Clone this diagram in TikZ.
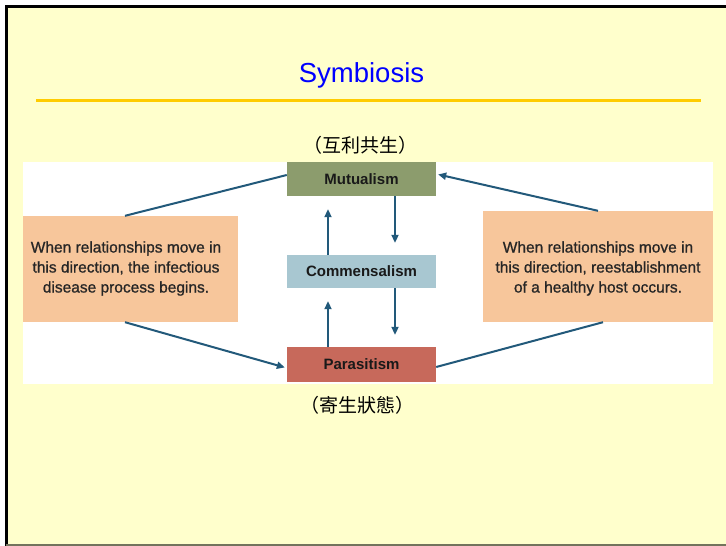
\documentclass[tikz,border=0pt]{standalone}
\usepackage{fontspec}
\setmainfont{Liberation Sans}
\newfontfamily\notefont[FakeBold=0.9]{Liberation Sans}
\newfontfamily\cjk{Noto Sans CJK TC}
\usetikzlibrary{arrows.meta}
\definecolor{slidebg}{HTML}{FFFFCC}
\definecolor{rulegold}{HTML}{FFCC00}
\definecolor{titleblue}{HTML}{0000FF}
\definecolor{mutcol}{HTML}{8C9C6D}
\definecolor{comcol}{HTML}{A8C7D1}
\definecolor{parcol}{HTML}{C7695B}
\definecolor{notecol}{HTML}{F7C69B}
\definecolor{linkcol}{HTML}{22597A}
\tikzset{
  statebox/.style={fill=#1, draw=none, minimum width=149pt, inner sep=0pt,
    font=\fontsize{15}{18}\selectfont\bfseries, text=black!90},
  notebox/.style={fill=notecol, draw=none, inner sep=0pt},
  notetext/.style={inner sep=0pt, align=center,
    font=\notefont\fontsize{15.5}{20}\selectfont, text=black!85},
  link/.style={draw=linkcol, line width=2pt},
  linkarrow/.style={link, -{Triangle[length=8pt,width=7pt]}},
  cjklabel/.style={font=\cjk\fontsize{19}{22}\selectfont, inner sep=0pt}
}
\begin{document}
\begin{tikzpicture}[x=1pt,y=-1pt]
\useasboundingbox (0,0) rectangle (726,546);
\fill[white] (0,0) rectangle (726,546);
\fill[slidebg] (6,6) rectangle (726,545);
\draw[black, line width=2.5pt] (6.5,546) -- (6.5,6.5) -- (726,6.5);
\draw[black!55!slidebg, line width=1.5pt] (6,545) -- (726,545);

\node[text=titleblue, font=\fontsize{27.5}{30}\selectfont] (title) at (361.5,75) {Symbiosis};
\draw[rulegold, line width=3pt] (36,100) -- (701,100);

\fill[white] (23,162) rectangle (713,384);

\node[cjklabel] (cmut) at (360,145) {（互利共生）};
\node[cjklabel] (cpar) at (357,405) {（寄生狀態）};

\node[statebox=mutcol, minimum height=34pt] (mut) at (361.5,179) {Mutualism};
\node[statebox=comcol, minimum height=33pt] (com) at (361.5,271.5) {Commensalism};
\node[statebox=parcol, minimum height=35pt] (par) at (361.5,364.5) {Parasitism};

\node[notebox, minimum width=215pt, minimum height=106pt] (left) at (130.5,269) {};
\node[notetext] (lefttext) at (126,268.5)
  {When relationships move in\\this direction, the infectious\\disease process begins.};
\node[notebox, minimum width=230pt, minimum height=111pt] (right) at (598,266.5) {};
\node[notetext] (righttext) at (598,268.5)
  {When relationships move in\\this direction, reestablishment\\of a healthy host occurs.};

% vertical arrows
\draw[linkarrow, shorten >=13pt] ([xshift=-33.5pt]com.north) -- ([xshift=-33.5pt]mut.south);
\draw[linkarrow, shorten >=12pt] ([xshift=33.5pt]mut.south) -- ([xshift=33.5pt]com.north);
\draw[linkarrow, shorten >=13pt] ([xshift=-33.5pt]par.north) -- ([xshift=-33.5pt]com.south);
\draw[linkarrow, shorten >=12pt] ([xshift=33.5pt]com.south) -- ([xshift=33.5pt]par.north);

% diagonal connectors
\draw[link] ([xshift=-5.5pt]left.north) -- ([yshift=4pt]mut.west);
\draw[linkarrow, shorten >=2pt] ([xshift=-5.5pt]left.south) -- ([yshift=-3.5pt]par.west);
\draw[linkarrow, shorten >=2pt] (right.north) -- ([yshift=5pt]mut.east);
\draw[link] ([xshift=5pt]right.south) -- ([yshift=-2.5pt]par.east);
\end{tikzpicture}
\end{document}
